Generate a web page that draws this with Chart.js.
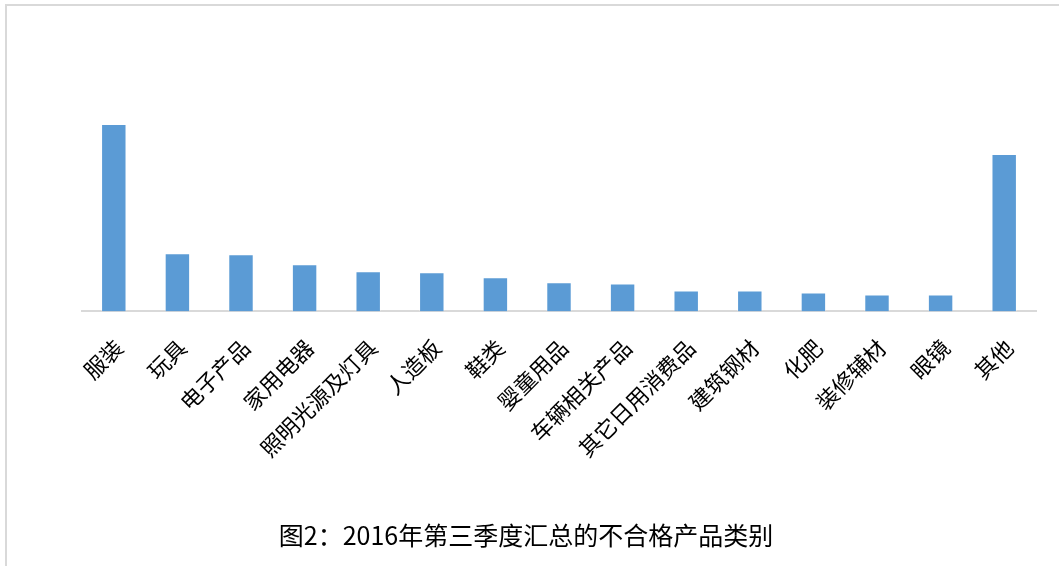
<!DOCTYPE html>
<html>
<head>
<meta charset="utf-8">
<script src="https://cdn.jsdelivr.net/npm/chart.js@4.4.1/dist/chart.umd.min.js"></script>
<style>
  html, body { margin: 0; padding: 0; background: #fff; }
  #wrap { position: relative; width: 1059px; height: 566px; overflow: hidden; }
  #frame { position: absolute; left: 5px; top: 4px; width: 1200px; height: 700px;
           border-top: 2px solid #d9d9d9; border-left: 2px solid #d9d9d9; box-sizing: border-box; }
  canvas { position: absolute; left: 0; top: 0; }
  #title { position: absolute; left: 0; top: 519px; width: 1052px; text-align: center;
           font-family: 'Noto Sans CJK SC', 'Noto Sans', sans-serif; font-size: 25px;
           line-height: 30px; color: #000; white-space: nowrap; }
</style>
</head>
<body>
<div id="wrap">
  <div id="frame"></div>
  <canvas id="c" width="1059" height="566"></canvas>
  <div id="title"></div>
</div>
<script>
const categories = ["服装", "玩具", "电子产品", "家用电器", "照明光源及灯具", "人造板", "鞋类", "婴童用品", "车辆相关产品", "其它日用消费品", "建筑钢材", "化肥", "装修辅材", "眼镜", "其他"];
const values = [187, 58, 57, 47, 40, 39, 34, 29, 28, 21, 21, 19, 17, 17, 157];
const titleText = "图2：2016年第三季度汇总的不合格产品类别";
const FONT = "'Noto Sans CJK SC', 'Noto Sans', sans-serif";

document.getElementById('title').textContent = titleText;

new Chart(document.getElementById('c'), {
  type: 'bar',
  data: {
    labels: categories,
    datasets: [{
      data: values,
      backgroundColor: '#5b9bd5',
      borderColor: 'rgba(255,255,255,0.35)',
      borderWidth: 1,
      barPercentage: 0.4,
      categoryPercentage: 1.0
    }]
  },
  options: {
    responsive: false,
    animation: false,
    layout: { padding: { left: 82, right: 23, top: 111, bottom: 81 } },
    plugins: {
      legend: { display: false },
      tooltip: { enabled: false },
      title: { display: false }
    },
    scales: {
      x: {
        grid: { display: false, drawTicks: false },
        border: { display: true, color: '#d9d9d9', width: 2 },
        ticks: {
          autoSkip: false,
          minRotation: 45,
          maxRotation: 45,
          padding: 23,
          labelOffset: 5,
          color: '#000',
          font: { family: FONT, size: 22 }
        }
      },
      y: {
        display: false,
        min: 0,
        max: 200
      }
    }
  }
});
</script>
</body>
</html>
